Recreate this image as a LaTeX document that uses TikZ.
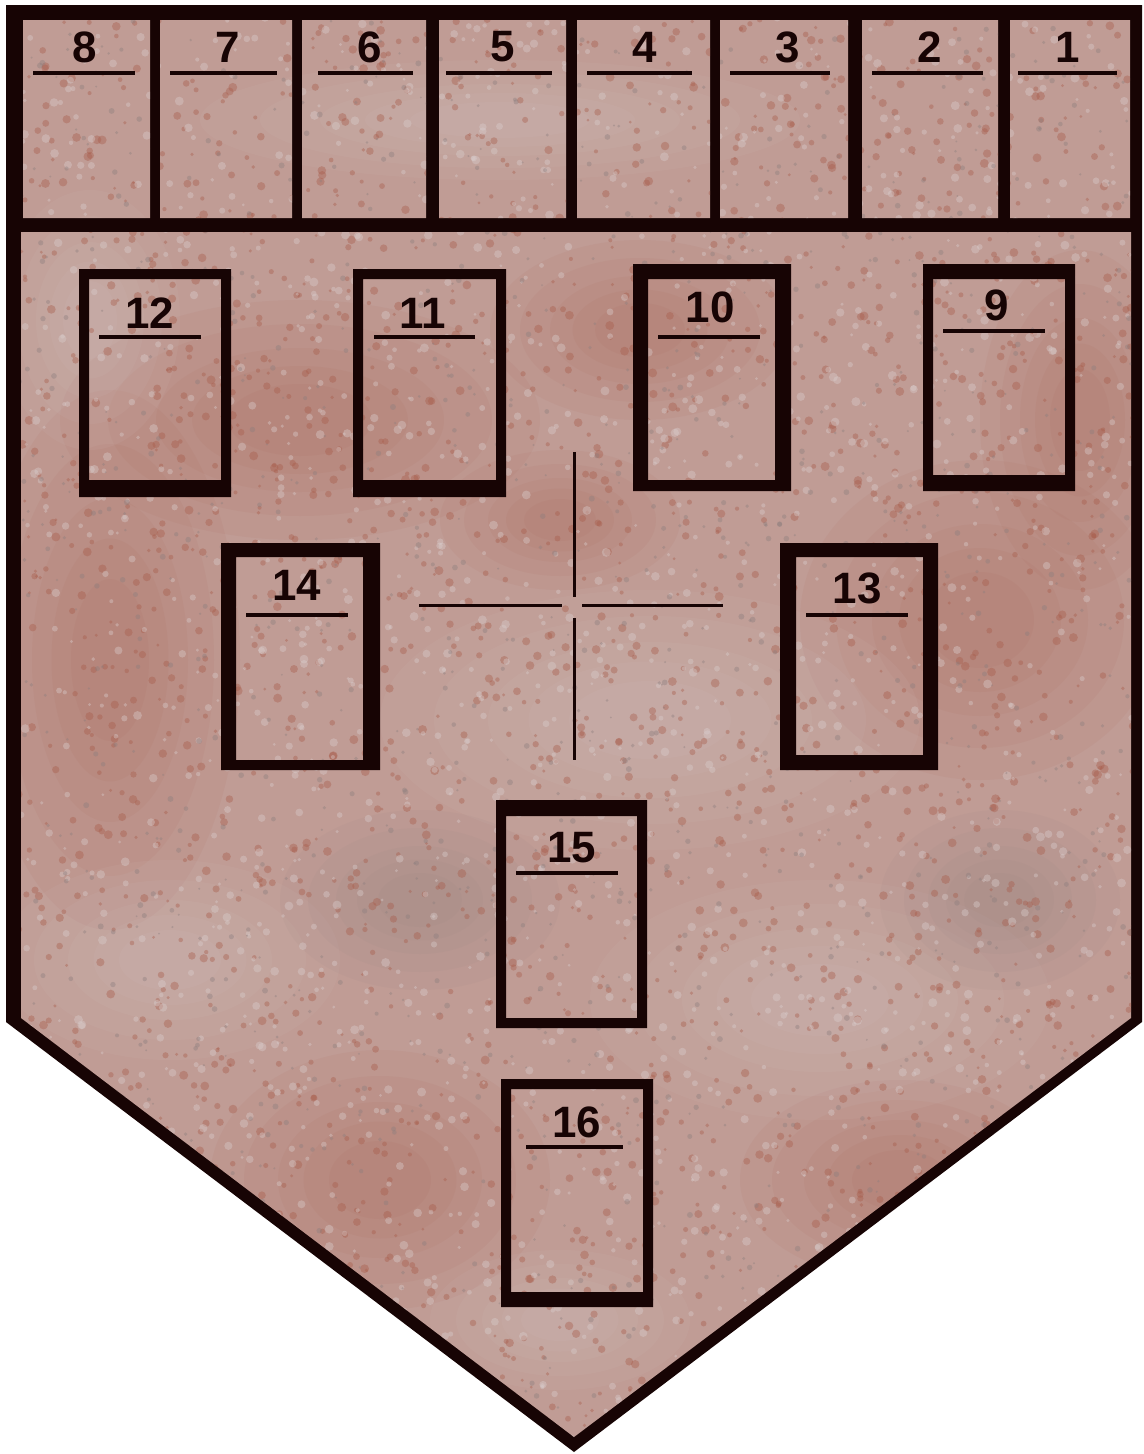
\documentclass[tikz,border=0pt]{standalone}
\usepackage{fontspec}
\setsansfont{Liberation Sans}
\usetikzlibrary{calc}
\definecolor{ink}{HTML}{170404}
\definecolor{marble}{HTML}{C09C95}
\definecolor{rust}{HTML}{A85C4A}
\definecolor{pale}{HTML}{D9CDCD}
\definecolor{stone}{HTML}{8C7E7E}
\tikzset{
  frame/.style={fill=ink, even odd rule},
  cardnum/.style={inner sep=0pt, text=ink,
    font=\fontsize{25}{25}\selectfont\sffamily\bfseries},
  numrule/.style={draw=ink, line width=0.08cm},
  crossline/.style={draw=ink, line width=0.06cm},
  blotch/.style={fill=#1, opacity=0.07},
  speck/.style={fill=#1, opacity=0.4},
}

\begin{document}
\begin{tikzpicture}[x=0.02cm, y=-0.02cm]
  \useasboundingbox (0,0) rectangle (1143,1454);
  % outline of the banner
  \fill[ink] (6,5) -- (1142,5) -- (1142,1022) -- (574,1452) -- (6,1022) -- cycle;
  % marble surface
  \begin{scope}
    \clip (23,20) rectangle (150,218) (160,20) rectangle (292,218)
          (302,20) rectangle (426,218) (439,20) rectangle (566,218)
          (577,20) rectangle (710,218) (720,20) rectangle (848,218)
          (862,20) rectangle (998,218) (1010,20) rectangle (1130,218)
          (21,232) -- (1131,232) -- (1131,1018) -- (574,1437) -- (21,1018) -- cycle;
    \fill[marble] (0,0) rectangle (1143,1454);
    \foreach \cx/\cy/\a/\b/\c in {300/420/240/120/rust, 110/660/130/270/rust,
        980/620/180/160/rust, 1080/420/100/170/rust, 380/1180/170/130/rust,
        640/330/150/90/rust, 900/1180/160/100/rust, 560/520/120/70/rust,
        650/720/270/130/pale, 820/1000/230/120/pale, 170/960/170/100/pale,
        90/320/90/130/pale, 560/1320/130/70/pale, 500/120/300/60/pale,
        1000/900/120/90/stone, 420/900/140/90/stone}
      \foreach \s in {1,0.8,0.6,0.45,0.3}
        \fill[blotch=\c] (\cx,\cy) ellipse ({\s*\a} and {\s*\b});
    \pgfmathsetseed{17}
    \foreach \i in {1,...,2600}
      \fill[speck=rust] (rnd*1143, rnd*1454) circle (1.5+3*rnd);
    \foreach \i in {1,...,2000}
      \fill[speck=pale] (rnd*1143, rnd*1454) circle (1.5+3*rnd);
    \foreach \i in {1,...,1400}
      \fill[speck=stone] (rnd*1143, rnd*1454) circle (1+2*rnd);
  \end{scope}

  % top row
  \node[cardnum] (n8) at (85,47) {8};
  \node[cardnum] (n7) at (228,47) {7};
  \node[cardnum] (n6) at (370,47) {6};
  \node[cardnum] (n5) at (503,47) {5};
  \node[cardnum] (n4) at (645,47) {4};
  \node[cardnum] (n3) at (788,47) {3};
  \node[cardnum] (n2) at (930,47) {2};
  \node[cardnum] (n1) at (1068,47) {1};
  \draw[numrule] (33,73) -- (135,73);
  \draw[numrule] (170,73) -- (277,73);
  \draw[numrule] (318,73) -- (413,73);
  \draw[numrule] (446,73) -- (552,73);
  \draw[numrule] (587,73) -- (692,73);
  \draw[numrule] (730,73) -- (830,73);
  \draw[numrule] (872,73) -- (983,73);
  \draw[numrule] (1018,73) -- (1117,73);

  % cards in the field
  \fill[frame] (79,269) rectangle (231,497) (89,279) rectangle (221,480);
  \fill[frame] (353,269) rectangle (506,497) (363,279) rectangle (496,480);
  \fill[frame] (633,264) rectangle (791,491) (648,279) rectangle (775,480);
  \fill[frame] (923,264) rectangle (1075,491) (933,279) rectangle (1065,475);
  \fill[frame] (221,543) rectangle (380,770) (236,557) rectangle (363,760);
  \fill[frame] (780,543) rectangle (938,770) (796,557) rectangle (923,755);
  \fill[frame] (496,800) rectangle (647,1028) (506,816) rectangle (637,1018);
  \fill[frame] (501,1079) rectangle (653,1307) (511,1089) rectangle (643,1292);
  \node[cardnum] (n12) at (150,313) {12};
  \node[cardnum] (n11) at (423,313) {11};
  \node[cardnum] (n10) at (710,307) {10};
  \node[cardnum] (n9) at (997,305) {9};
  \node[cardnum] (n14) at (297,585) {14};
  \node[cardnum] (n13) at (857,588) {13};
  \node[cardnum] (n15) at (572,848) {15};
  \node[cardnum] (n16) at (577,1122) {16};
  \draw[numrule] (99,337) -- (201,337);
  \draw[numrule] (374,337) -- (475,337);
  \draw[numrule] (658,337) -- (760,337);
  \draw[numrule] (943,331) -- (1045,331);
  \draw[numrule] (246,615) -- (348,615);
  \draw[numrule] (806,615) -- (908,615);
  \draw[numrule] (516,873) -- (618,873);
  \draw[numrule] (526,1147) -- (623,1147);

  % crosshair
  \coordinate (cross) at (574,605);
  \draw[crossline] ($(cross)+(0,-153)$) -- ($(cross)+(0,-8)$);
  \draw[crossline] ($(cross)+(0,13)$) -- ($(cross)+(0,155)$);
  \draw[crossline] ($(cross)+(-155,0)$) -- ($(cross)+(-12,0)$);
  \draw[crossline] ($(cross)+(8,0)$) -- ($(cross)+(149,0)$);
\end{tikzpicture}
\end{document}
